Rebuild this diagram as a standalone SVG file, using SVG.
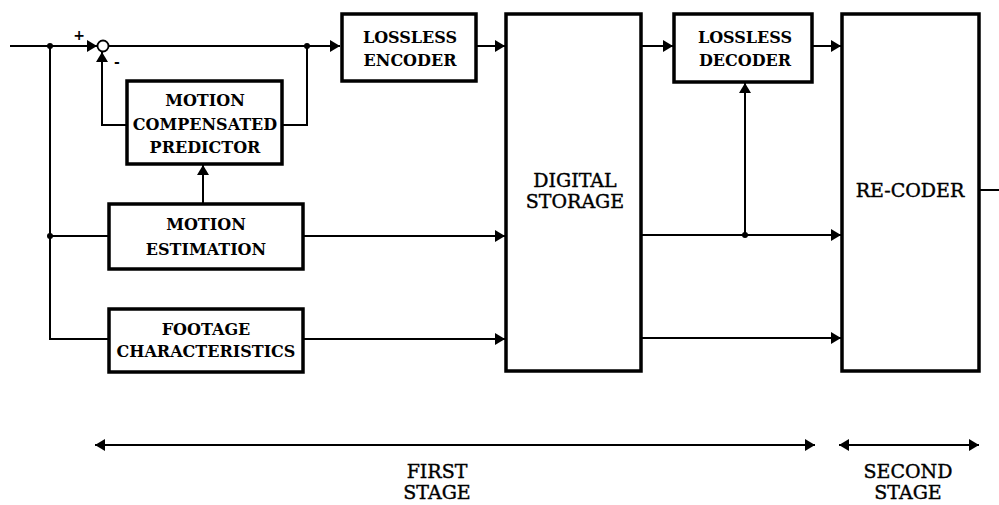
<svg xmlns="http://www.w3.org/2000/svg" width="999" height="505" viewBox="0 0 999 505">
<style>
.box{fill:#fff;stroke:#000;stroke-width:3.5}
.ln{fill:none;stroke:#000;stroke-width:2}
.b{font-family:"DejaVu Serif","Liberation Serif",serif;font-weight:bold;font-size:16px;text-anchor:middle;fill:#000}
.r{font-family:"DejaVu Serif","Liberation Serif",serif;font-size:19px;text-anchor:middle;fill:#000;stroke:#000;stroke-width:0.4}
.s{font-family:"DejaVu Sans","Liberation Sans",sans-serif;font-weight:bold;font-size:14px;text-anchor:middle;fill:#000}
</style>
<defs>
<marker id="ah" viewBox="0 0 10 12" refX="10" refY="6" markerWidth="10" markerHeight="12" markerUnits="userSpaceOnUse" orient="auto-start-reverse">
<path d="M0,0 L10,6 L0,12 z" fill="#000"/>
</marker>
</defs>
<g id="connectors">
<path class="ln" d="M10,46 H97" marker-end="url(#ah)"/>
<path class="ln" d="M108,46 H340" marker-end="url(#ah)"/>
<path class="ln" d="M127,125 H102 V52" marker-end="url(#ah)"/>
<path class="ln" d="M282,125 H307 V46"/>
<path class="ln" d="M203,204 V165" marker-end="url(#ah)"/>
<path class="ln" d="M50,46 V339 H109"/>
<path class="ln" d="M50,236 H109"/>
<path class="ln" d="M303,236 H505" marker-end="url(#ah)"/>
<path class="ln" d="M303,339 H505" marker-end="url(#ah)"/>
<path class="ln" d="M476,46 H505" marker-end="url(#ah)"/>
<path class="ln" d="M641,46 H673" marker-end="url(#ah)"/>
<path class="ln" d="M812,46 H841" marker-end="url(#ah)"/>
<path class="ln" d="M641,235 H841" marker-end="url(#ah)"/>
<path class="ln" d="M641,338 H841" marker-end="url(#ah)"/>
<path class="ln" d="M745,235 V83" marker-end="url(#ah)"/>
<path class="ln" d="M979,190 H999"/>
<path class="ln" d="M95,445 H815" stroke-width="2.5" marker-start="url(#ah)" marker-end="url(#ah)"/>
<path class="ln" d="M839,445 H979" marker-start="url(#ah)" marker-end="url(#ah)"/>
<circle cx="50" cy="46" r="3" fill="#000"/>
<circle cx="307" cy="46" r="3" fill="#000"/>
<circle cx="50" cy="236" r="3" fill="#000"/>
<circle cx="745" cy="235" r="3" fill="#000"/>
</g>
<g id="sum">
<circle cx="103" cy="46" r="5.5" fill="#fff" stroke="#000" stroke-width="1.8"/>
<text class="s" x="79" y="40">+</text>
<text class="s" x="117" y="67">-</text>
</g>
<g id="mcp">
<rect class="box" x="127" y="81" width="155" height="83"/>
<text class="b" x="205" y="106">MOTION</text>
<text class="b" x="205" y="130">COMPENSATED</text>
<text class="b" x="205" y="153">PREDICTOR</text>
</g>
<g id="me">
<rect class="box" x="109" y="204" width="194" height="65"/>
<text class="b" x="206" y="230">MOTION</text>
<text class="b" x="206" y="255">ESTIMATION</text>
</g>
<g id="fc">
<rect class="box" x="109" y="309" width="194" height="63"/>
<text class="b" x="206" y="335">FOOTAGE</text>
<text class="b" x="206" y="357">CHARACTERISTICS</text>
</g>
<g id="enc">
<rect class="box" x="342" y="14" width="134" height="67"/>
<text class="b" x="410" y="43">LOSSLESS</text>
<text class="b" x="410" y="66">ENCODER</text>
</g>
<g id="ds">
<rect class="box" x="506" y="14" width="135" height="357"/>
<text class="r" x="575" y="187">DIGITAL</text>
<text class="r" x="575" y="208">STORAGE</text>
</g>
<g id="dec">
<rect class="box" x="674" y="14" width="138" height="68"/>
<text class="b" x="745" y="43">LOSSLESS</text>
<text class="b" x="745" y="66">DECODER</text>
</g>
<g id="rec">
<rect class="box" x="842" y="14" width="137" height="357"/>
<text class="r" x="910" y="197">RE-CODER</text>
</g>
<g id="stages">
<text class="r" x="437" y="478">FIRST</text>
<text class="r" x="437" y="499">STAGE</text>
<text class="r" x="908" y="478">SECOND</text>
<text class="r" x="908" y="499">STAGE</text>
</g>
</svg>
